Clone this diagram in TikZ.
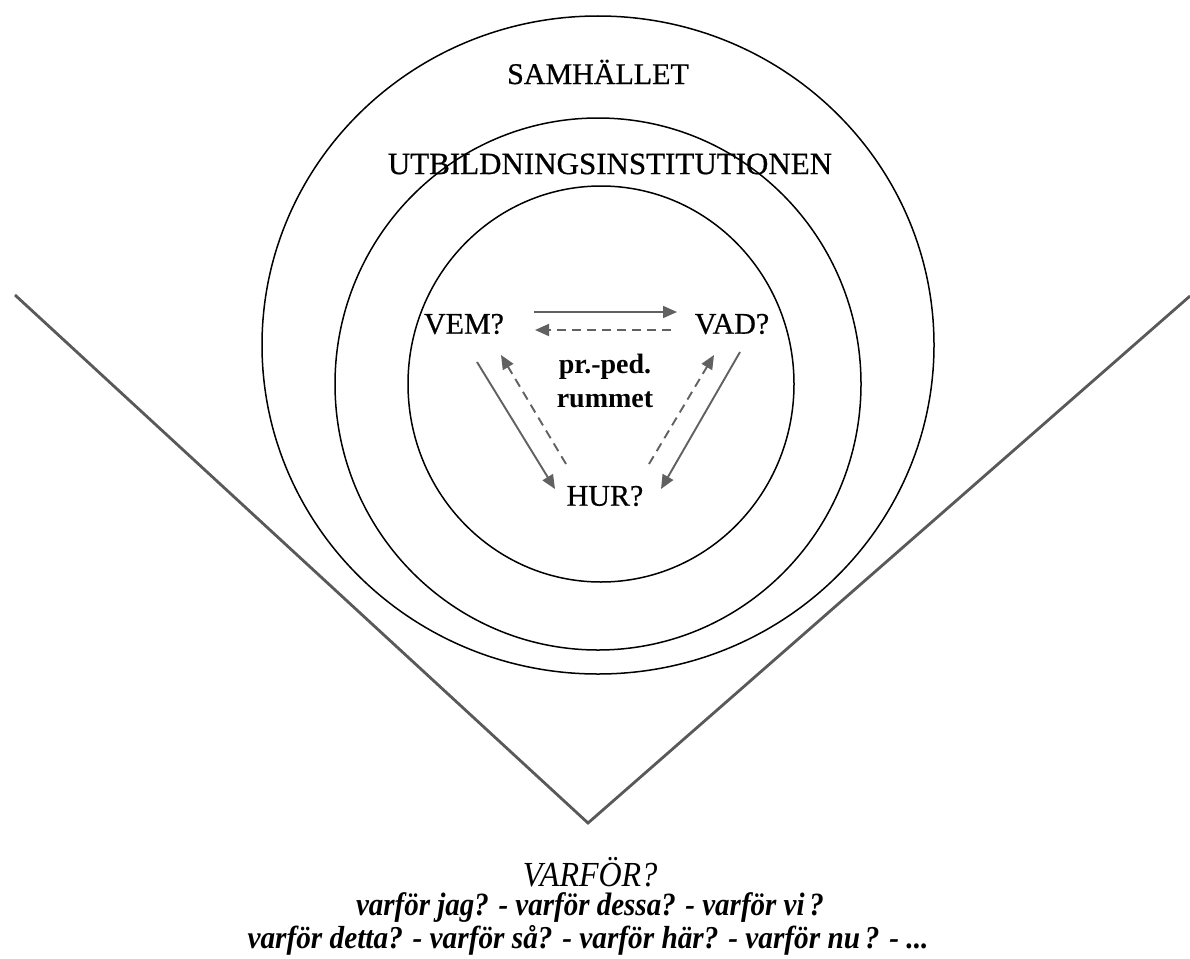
\documentclass[tikz,border=0pt]{standalone}
\usepackage{fontspec}
\setmainfont{Liberation Serif}
\newfontfamily\heavyserif{Liberation Serif}[FakeBold=0.6]
\usetikzlibrary{arrows.meta}
\begin{document}
\begin{tikzpicture}[x=1pt,y=-1pt,
  ring/.style={draw=black,line width=1.5pt},
  vline/.style={draw=black!65,line width=2.8pt},
  lbl/.style={font=\heavyserif\fontsize{30}{34}\selectfont,inner sep=0pt},
  solidarr/.style={draw=black!62,line width=1.9pt,-{Triangle[length=14pt,width=12pt]}},
  dasharr/.style={draw=black!62,line width=1.9pt,dash pattern=on 9pt off 6pt,-{Triangle[length=14pt,width=12pt]}},
  botline/.style={font=\fontsize{29}{33}\selectfont\bfseries\itshape,inner sep=0pt}]
\useasboundingbox[fill=white] (0,0) rectangle (1190,958);
% rings
\draw[ring] (598,345) ellipse [x radius=336,y radius=329];
\draw[ring] (598,384) ellipse [x radius=263,y radius=266];
\draw[ring] (601,384) ellipse [x radius=193,y radius=198];
% V lines
\coordinate (vl) at (15,295);
\coordinate (vb) at (588,823);
\coordinate (vr) at (1190,296);
\draw[vline] (vl) -- (vb) -- (vr);
% labels
\node[lbl] (sam) at (598,72) {SAMHÄLLET};
\node[lbl,font=\heavyserif\fontsize{31}{34}\selectfont] (utb) at (610,164) {UTBILDNINGSINSTITUTIONEN};
\node[lbl] (vem) at (464,324) {VEM?};
\node[lbl] (vad) at (732,324) {VAD?};
\node[lbl] (hur) at (605,496) {HUR?};
\node[lbl,font=\fontsize{28}{32}\selectfont\bfseries] (pr) at (605,367) {pr.-ped.};
\node[lbl,font=\fontsize{28}{32}\selectfont\bfseries] (rum) at (605,400) {rummet};
% arrow end points
\coordinate (a1s) at (534,312); \coordinate (a1e) at (677,312);
\coordinate (a2s) at (671,330); \coordinate (a2e) at (535,330);
\coordinate (a3s) at (477,362); \coordinate (a3e) at (555,489);
\coordinate (a4s) at (566,464); \coordinate (a4e) at (501,355);
\coordinate (a5s) at (649,464); \coordinate (a5e) at (714,355);
\coordinate (a6s) at (740,352); \coordinate (a6e) at (661,489);
\draw[solidarr] (a1s) -- (a1e);
\draw[dasharr] (a2s) -- (a2e);
\draw[solidarr] (a3s) -- (a3e);
\draw[dasharr] (a4s) -- (a4e);
\draw[dasharr] (a5s) -- (a5e);
\draw[solidarr] (a6s) -- (a6e);
% bottom text
\node[lbl,font=\fontsize{32}{34}\selectfont\itshape] (why) at (590,872) {\scalebox{1}[1.1]{VARFÖR?}};
\node[botline] (l2) at (590,908) {\scalebox{1}[1.12]{varför jag? - varför dessa? - varför vi\,?}};
\node[botline] (l3) at (588,940) {\scalebox{1.01}[1.1]{varför detta? - varför så? - varför här? - varför nu\,? - ...}};
\end{tikzpicture}
\end{document}
